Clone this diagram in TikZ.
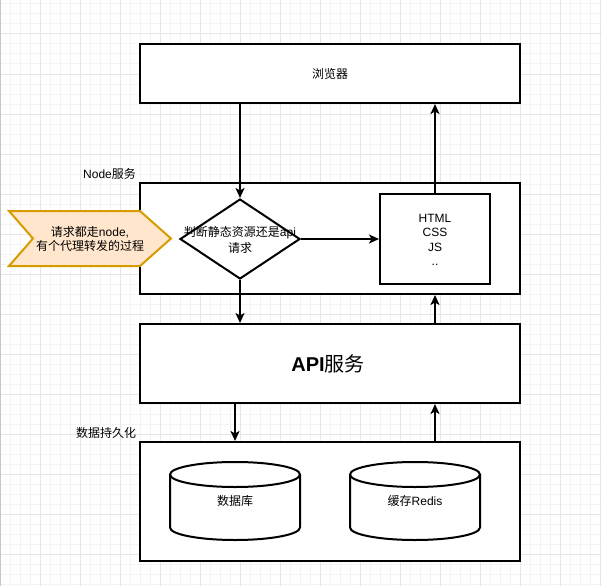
\documentclass[tikz,border=0pt]{standalone}
\usepackage{fontspec}
\setmainfont{Liberation Sans}
\newfontfamily\cjk{Noto Sans CJK SC}
\usepackage{tikz}
\usetikzlibrary{arrows.meta,shapes.geometric,calc}
\definecolor{gridminor}{HTML}{F4F4F4}
\definecolor{gridmajor}{HTML}{E6E6E6}
\definecolor{noteFill}{HTML}{FFE6CC}
\definecolor{noteDraw}{HTML}{D79B00}
\begin{document}
\begin{tikzpicture}[x=1pt,y=-1pt,
    box/.style={draw, fill=white, line width=2pt, inner sep=0pt},
    txt/.style={align=center, inner sep=0pt, font=\fontsize{12}{14}\selectfont},
    flow/.style={line width=2pt, -{Stealth[length=10pt,width=9pt,inset=2.5pt]}}]
  % Configurable parameters
  \def\cylrx{65}            % half width of a cylinder
  \def\cylry{12.5}          % half height of a cylinder lid
  \newcommand{\boxfont}{\fontsize{12}{14}\selectfont}
  %
  \useasboundingbox (0,0) rectangle (602,586);
  % Grid
  \fill[white] (0,0) rectangle (602,586);
  \foreach \gx in {0,10,...,600}
    \draw[gridminor, line width=1pt] (\gx,0) -- (\gx,586);
  \foreach \gy in {4,14,...,584}
    \draw[gridminor, line width=1pt] (0,\gy) -- (602,\gy);
  \foreach \gx in {40,80,...,600}
    \draw[gridmajor, line width=1pt] (\gx,0) -- (\gx,586);
  \foreach \gy in {34,74,...,554}
    \draw[gridmajor, line width=1pt] (0,\gy) -- (602,\gy);
  \draw[black!22, line width=1pt] (0.5,0) -- (0.5,586);
  %
  % Boxes
  \node[box, minimum width=380pt, minimum height=59pt] (browser) at (330,73.5) {};
  \node[txt] (browsertext) at (browser) {\cjk 浏览器};
  \node[box, minimum width=380pt, minimum height=111pt] (nodesvc) at (330,238.5) {};
  \node[txt, anchor=west] (nodelabel) at (83,174) {Node{\cjk 服务}};
  \node[box, diamond, minimum width=120pt, minimum height=80pt] (judge) at (240,239) {};
  \node[txt, font=\fontsize{12}{16}\selectfont] (judgetext) at (240,240)
    {{\cjk 判断静态资源还是}api\\{\cjk 请求}};
  \node[box, minimum width=110pt, minimum height=90pt] (static) at (435,239) {};
  \node[txt, font=\fontsize{12}{14.3}\selectfont] (statictext) at (435,240)
    {HTML\\CSS\\JS\\..};
  \node[box, minimum width=380pt, minimum height=79pt] (api) at (330,363.5) {};
  \node[txt] (apitext) at (328,364)
    {\fontsize{20}{24}\selectfont\textbf{API}{\cjk 服务}};
  \node[box, minimum width=380pt, minimum height=119pt] (store) at (330,501.5) {};
  \node[txt, anchor=west] (storelabel) at (76,433) {\cjk 数据持久化};
  %
  % Cylinders
  \foreach \cx in {235,415} {
    \filldraw[fill=white, line width=2pt]
      (\cx-\cylrx,474.5) -- (\cx-\cylrx,527.5)
      arc[start angle=180, end angle=360, x radius=\cylrx pt, y radius=\cylry pt]
      -- (\cx+\cylrx,474.5);
    \filldraw[fill=white, line width=2pt]
      (\cx,474.5) ellipse [x radius=\cylrx pt, y radius=\cylry pt];
  }
  \node[txt] (dbtext) at (235,501) {\cjk 数据库};
  \node[txt] (redistext) at (415,501) {{\cjk 缓存}Redis};
  %
  % Note on the left
  \filldraw[fill=noteFill, draw=noteDraw, line width=2pt]
    (9,211) -- (140,211) -- (171,238.5) -- (140,266) -- (9,266) -- (33,238.5) -- cycle;
  \node[txt] (notetext) at (90,239) {{\cjk 请求都走}node,\\{\cjk 有个代理转发的过程}};
  %
  % Connecting arrows
  \draw[flow] (browser.south -| judge) -- (judge.north);
  \draw[flow] (judge.east) -- (static.west);
  \draw[flow] (static.north) -- (static.north |- browser.south);
  \draw[flow] (judge.south) -- (judge.south |- api.north);
  \draw[flow] (api.north -| static) -- (nodesvc.south -| static);
  \draw[flow] (api.south -| dbtext) -- (store.north -| dbtext);
  \draw[flow] (store.north -| static) -- (api.south -| static);
  %
\end{tikzpicture}
\end{document}
